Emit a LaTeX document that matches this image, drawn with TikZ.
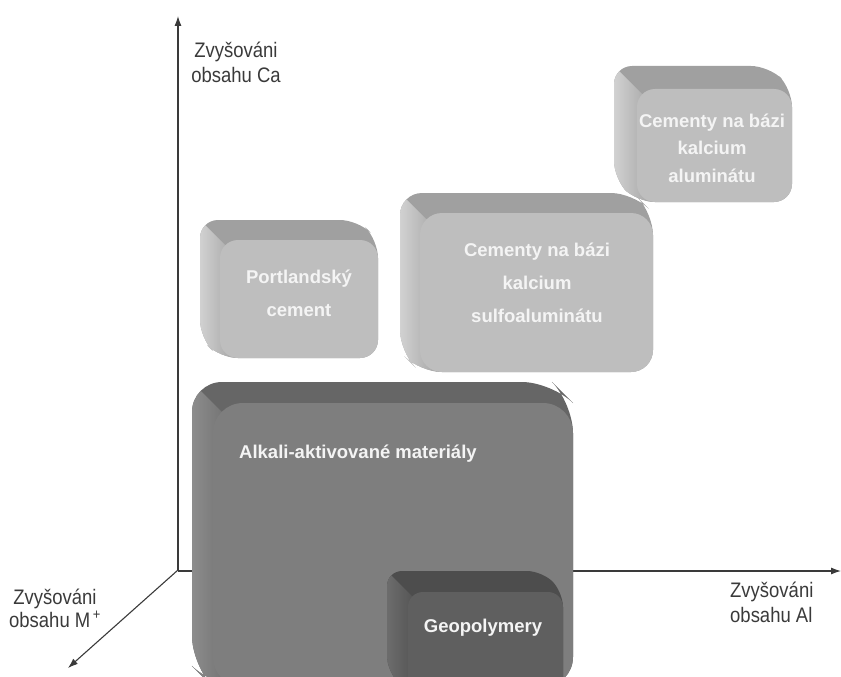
\documentclass[tikz,border=0pt]{standalone}
\usepackage{fontspec}
\setmainfont{Liberation Sans}
\newfontfamily\osafont[FakeStretch=0.88]{Liberation Sans}
\usetikzlibrary{arrows.meta}
\definecolor{osagray}{HTML}{3A3A3A}
\definecolor{svetlyface}{HTML}{BEBEBE}
\definecolor{svetlytop}{HTML}{A0A0A0}
\definecolor{svetlyside}{HTML}{D4D4D4}
\definecolor{tmavyface}{HTML}{7E7E7E}
\definecolor{tmavytop}{HTML}{666666}
\definecolor{tmavyside}{HTML}{8E8E8E}
\definecolor{geoface}{HTML}{5F5F5F}
\definecolor{geotop}{HTML}{4D4D4D}
\definecolor{geoside}{HTML}{6E6E6E}
\definecolor{popisek}{HTML}{F4F4F4}
\tikzset{
    osasty/.style={draw=osagray, line width=1.1pt},
    osatextsty/.style={text=osagray, font=\osafont\fontsize{21}{25}\selectfont, align=center, inner sep=0pt},
    boxtextsty/.style={text=popisek, font=\bfseries\fontsize{18.5}{33}\selectfont, align=center, inner sep=0pt},
}
% kvadr: x, y of back top-left corner, width, height, depth, top colour, side colour, face colour, radius
\newcommand{\kvadr}[9]{%
  \fill[#6, rounded corners=#9pt] (#1,#2) -- ++(#3,0) -- ++(#5,#5) -- ++(0,#4) -- ++(-#3,0) -- ++(-#5,-#5) -- cycle;
  \begin{scope}
    \clip[rounded corners=#9pt] (#1,#2) -- ++(#3,0) -- ++(#5,#5) -- ++(0,#4) -- ++(-#3,0) -- ++(-#5,-#5) -- cycle;
    \clip (#1-60,#2-60) -- (#1+500,#2+500) -- (#1-60,#2+500) -- cycle;
    \shade[left color=#7, right color=#6] (#1-2,#2) rectangle (#1+#5+#9,#2+#4+#5);
  \end{scope}
  \fill[#8, rounded corners=#9pt] (#1+#5,#2+#5) rectangle ++(#3,#4);
}

\begin{document}
\begin{tikzpicture}[x=1pt, y=-1pt, >={Latex[length=10pt,width=7pt]}]
\useasboundingbox (0,0) rectangle (841,677);
\clip (0,0) rectangle (841,677);

% axes
\coordinate (pocatek) at (178,570);
\coordinate (osaCa) at (178,16);
\coordinate (osaAl) at (841,571);
\coordinate (osaM) at (68,668);
\draw[osasty,->] (pocatek) -- (osaCa);
\draw[osasty,->] (pocatek |- osaAl) -- (osaAl);
\draw[osasty,->] (pocatek) -- (osaM);

% base anchor = last line
\node[osatextsty, anchor=base] (popisCa) at (236,83) {Zvyšováni\\obsahu Ca};
\node[osatextsty, anchor=base west, align=left] (popisAl) at (730,622) {Zvyšováni\\obsahu Al};
\node[osatextsty, anchor=base, font=\osafont\fontsize{21}{23}\selectfont] (popisM) at (55,627) {Zvyšováni\\obsahu M\textsuperscript{\,+}};

% boxes
\kvadr{200}{220}{158}{118}{20}{svetlytop}{svetlyside}{svetlyface}{18}
\kvadr{614}{66}{155}{113}{23}{svetlytop}{svetlyside}{svetlyface}{18}
\kvadr{400}{193}{233}{159}{20}{svetlytop}{svetlyside}{svetlyface}{22}
\kvadr{192}{382}{360}{284}{21}{tmavytop}{tmavyside}{tmavyface}{30}
\kvadr{387}{571}{155}{100}{21}{geotop}{geoside}{geoface}{15}

\node[boxtextsty, anchor=base] (portland) at (299,316) {Portlandský\\cement};
\node[boxtextsty, anchor=base] (sulfo) at (537,322) {Cementy na bázi\\kalcium\\sulfoaluminátu};
\node[boxtextsty, anchor=base, font=\bfseries\fontsize{18.5}{27.5}\selectfont] (hlinitan) at (712,182) {Cementy na bázi\\kalcium\\aluminátu};
\node[boxtextsty, anchor=base west] (alkali) at (239,458) {Alkali-aktivované materiály};
\node[boxtextsty, anchor=base] (geopol) at (483,632) {Geopolymery};
\end{tikzpicture}
\end{document}
